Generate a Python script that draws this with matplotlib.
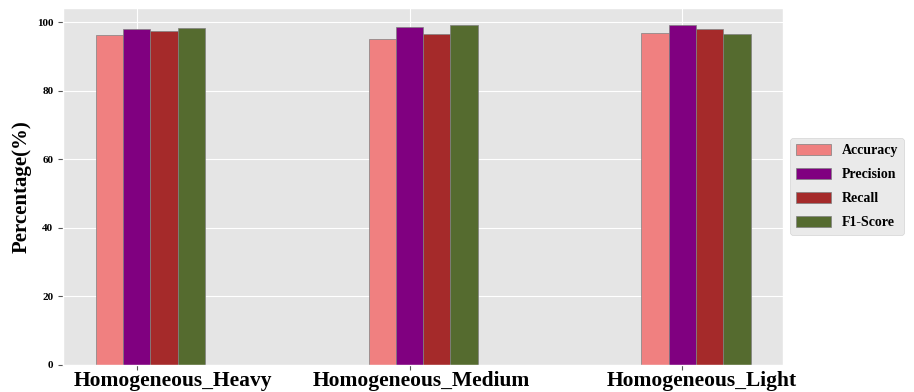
import matplotlib.pyplot as plt
import matplotlib.transforms as mtransforms
import numpy as np

plt.style.use('ggplot')
plt.rcParams['font.family'] = ['Liberation Serif', 'DejaVu Serif']
plt.rcParams['font.weight'] = 'bold'

groups = ['Homogeneous_Heavy', 'Homogeneous_Medium', 'Homogeneous_Light']
metrics = ['Accuracy', 'Precision', 'Recall', 'F1-Score']
accuracy  = [96.1, 95.0, 96.9]
precision = [97.9, 98.5, 99.1]
recall    = [97.5, 96.6, 98.1]
f1_score  = [98.3, 99.2, 96.6]
colors = ['lightcoral', 'purple', 'brown', 'darkolivegreen']

x = np.arange(len(groups))
w = 0.1

fig = plt.figure(figsize=(9.14, 3.92), dpi=100)
ax = fig.add_axes([0.069, 0.069, 0.788, 0.911])

series = [accuracy, precision, recall, f1_score]
for i, (vals, name, c) in enumerate(zip(series, metrics, colors)):
    ax.bar(x + (i - 1) * w, vals, w, color=c, label=name,
           edgecolor='grey', linewidth=0.5)

ax.set_xticks(x)
ax.set_xticklabels(groups, fontsize=15.5, fontweight='bold', color='black')
ax.tick_params(axis='y', labelsize=8, labelcolor='black')
ax.tick_params(axis='x', pad=1)
# the labels sit a bit right of their ticks in the original
shifts = [0.36, 0.12, 0.19]
for lbl, dx in zip(ax.get_xticklabels(), shifts):
    lbl.set_transform(lbl.get_transform() +
                      mtransforms.ScaledTranslation(dx, 0, fig.dpi_scale_trans))
for lbl in ax.get_yticklabels():
    lbl.set_fontweight('bold')
ax.set_ylabel('Percentage(%)', fontsize=15, fontweight='bold', color='black')

ax.legend(loc='center left', bbox_to_anchor=(1.0, 0.5),
          prop={'size': 10, 'weight': 'bold'}, labelcolor='black',
          labelspacing=0.75, handlelength=2.5, handleheight=0.9)

plt.savefig('out.png', dpi=100)
